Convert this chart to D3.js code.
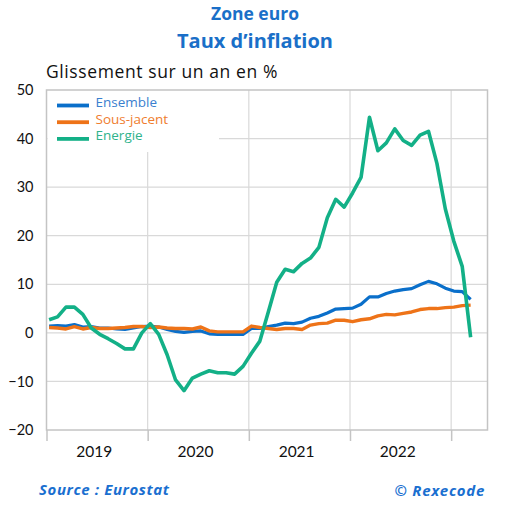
<!DOCTYPE html>
<html>
<head>
<meta charset="utf-8">
<script src="https://cdn.jsdelivr.net/npm/d3@7"></script>
<style>
  html, body { margin: 0; padding: 0; background: #fff; }
  svg { display: block; font-family: "Open Sans", Lato, sans-serif; }
</style>
</head>
<body>
<svg id="chart" width="509" height="511"></svg>
<script>
// ---- Data (euro area HICP, annual rate %) ----
const months = [
  "2019-01","2019-02","2019-03","2019-04","2019-05","2019-06","2019-07","2019-08","2019-09","2019-10","2019-11","2019-12",
  "2020-01","2020-02","2020-03","2020-04","2020-05","2020-06","2020-07","2020-08","2020-09","2020-10","2020-11","2020-12",
  "2021-01","2021-02","2021-03","2021-04","2021-05","2021-06","2021-07","2021-08","2021-09","2021-10","2021-11","2021-12",
  "2022-01","2022-02","2022-03","2022-04","2022-05","2022-06","2022-07","2022-08","2022-09","2022-10","2022-11","2022-12",
  "2023-01","2023-02","2023-03"
];
const ensemble = [
  1.4,1.5,1.4,1.7,1.2,1.3,1.0,1.0,0.8,0.7,1.0,1.3,
  1.4,1.2,0.7,0.3,0.1,0.3,0.4,-0.2,-0.3,-0.3,-0.3,-0.3,
  0.9,0.9,1.3,1.6,2.0,1.9,2.2,3.0,3.4,4.1,4.9,5.0,
  5.1,5.9,7.4,7.4,8.1,8.6,8.9,9.1,9.9,10.6,10.1,9.2,
  8.6,8.5,6.9
];
const sousJacent = [
  1.1,1.0,0.8,1.3,0.8,1.1,0.9,0.9,1.0,1.1,1.3,1.3,
  1.1,1.2,1.0,0.9,0.9,0.8,1.2,0.4,0.2,0.2,0.2,0.2,
  1.4,1.1,0.9,0.7,0.9,0.9,0.7,1.6,1.9,2.0,2.6,2.6,
  2.3,2.7,2.9,3.5,3.8,3.7,4.0,4.3,4.8,5.0,5.0,5.2,
  5.3,5.6,5.7
];
const energie = [
  2.7,3.3,5.3,5.3,3.8,1.0,-0.3,-1.2,-2.2,-3.3,-3.3,0.0,
  1.9,-0.3,-4.5,-9.7,-11.9,-9.3,-8.5,-7.8,-8.2,-8.2,-8.5,-6.9,
  -4.2,-1.7,4.3,10.4,13.1,12.6,14.3,15.4,17.6,23.7,27.5,25.9,
  28.8,32.0,44.4,37.5,39.1,42.0,39.6,38.6,40.7,41.5,34.9,25.5,
  18.9,13.7,-0.9
];
const seriesNames = ["Ensemble","Sous-jacent","Energie"];
const seriesColors = ["#0a6fca","#ee7318","#13b087"];
const legendTextColors = ["#3a80cf","#ef7d2e","#2fb38c"];
const yTicks = [-20,-10,0,10,20,30,40,50];
const yearLabels = ["2019","2020","2021","2022"];

// ---- Layout ----
const svg = d3.select("#chart");
const pL = 46.5, pR = 487.5, pT = 90, pB = 430;

const x = d3.scaleLinear().domain([-0.31, 52.0]).range([pL, pR]);
const y = d3.scaleLinear().domain([-20, 50]).range([pB, pT]);

const yearBounds = d3.range(0, 5).map(k => 12 * k - 0.31);

// Titles
const blue = "#1a6fc8";
svg.append("text").attr("x", 255).attr("y", 20).attr("text-anchor", "middle")
  .attr("font-size", 17.5).attr("font-weight", 700).attr("fill", blue).text("Zone euro");
svg.append("text").attr("x", 255).attr("y", 48).attr("text-anchor", "middle")
  .attr("font-size", 20).attr("font-weight", 700).attr("fill", blue).text("Taux d\u2019inflation");
svg.append("text").attr("x", 46).attr("y", 78).attr("font-size", 17.5).attr("letter-spacing", 0.6)
  .attr("fill", "#111").text("Glissement sur un an en %");

// Grid
const grid = svg.append("g");
grid.selectAll(".hg").data(yTicks.filter(v => v > -20 && v < 50)).join("line")
  .attr("x1", pL).attr("x2", pR).attr("y1", d => y(d)).attr("y2", d => y(d))
  .attr("stroke", "#d9d9d9").attr("stroke-width", 1.2);
grid.selectAll(".vg").data(yearBounds.slice(1)).join("line")
  .attr("x1", d => x(d)).attr("x2", d => x(d)).attr("y1", pT).attr("y2", pB)
  .attr("stroke", "#d9d9d9").attr("stroke-width", 1.2);

// Legend background (hides grid)
svg.append("rect").attr("x", pL + 1).attr("y", pT + 1).attr("width", 219 - pL - 1).attr("height", 152 - pT - 1)
  .attr("fill", "#fff");

// Plot border
svg.append("rect").attr("x", pL).attr("y", pT).attr("width", pR - pL).attr("height", pB - pT)
  .attr("fill", "none").attr("stroke", "#c4c4c4").attr("stroke-width", 1.5);

// Y axis
const yAxis = d3.axisLeft(y).tickValues(yTicks).tickSize(0).tickPadding(13).tickFormat(d3.format("d"));
const ga = svg.append("g").attr("transform", `translate(${pL},0)`).call(yAxis);
ga.select(".domain").remove();
ga.selectAll("text").attr("font-size", 14.5).attr("fill", "#111").attr("font-family", "Lato, sans-serif");

// X axis ticks (year boundaries) and labels
const xAxis = d3.axisBottom(x).tickValues(yearBounds).tickSize(11).tickFormat("");
const gx = svg.append("g").attr("transform", `translate(0,${pB})`).call(xAxis);
gx.select(".domain").remove();
gx.selectAll("line").attr("stroke", "#c4c4c4").attr("stroke-width", 1.5);

const labelPos = yearLabels.map((t, i) => 12 * i + 5.3);
const xLab = d3.axisBottom(x).tickValues(labelPos).tickSize(0).tickPadding(16)
  .tickFormat((d, i) => yearLabels[i]);
const gl = svg.append("g").attr("transform", `translate(0,${pB})`).call(xLab);
gl.select(".domain").remove();
gl.selectAll("text").attr("font-size", 15.5).attr("fill", "#111").attr("font-family", "Lato, sans-serif");

// Lines
const data = [ensemble, sousJacent, energie];
const widths = [3.2, 3.4, 3.6];
const line = d3.line().x((d, i) => x(i)).y(d => y(d)).curve(d3.curveLinear);
data.forEach((s, k) => {
  svg.append("path").datum(s).attr("d", line)
    .attr("fill", "none").attr("stroke", seriesColors[k]).attr("stroke-width", widths[k])
    .attr("stroke-linejoin", "round").attr("stroke-linecap", "butt");
});

// Legend
const lg = svg.append("g");
seriesNames.forEach((n, k) => {
  const yy = 105.5 + k * 16.7;
  lg.append("line").attr("x1", 57).attr("x2", 89).attr("y1", yy).attr("y2", yy)
    .attr("stroke", seriesColors[k]).attr("stroke-width", 3.8);
  lg.append("text").attr("x", 95.5).attr("y", yy + 1.5).attr("font-size", 13.5)
    .attr("fill", legendTextColors[k]).text(n);
});

// Footer
svg.append("text").attr("x", 39).attr("y", 495).attr("font-size", 15).attr("font-weight", 700)
  .attr("letter-spacing", 0.6).attr("font-style", "italic").attr("fill", "#1a6fd0").text("Source : Eurostat");
svg.append("text").attr("x", 485).attr("y", 496).attr("text-anchor", "end").attr("font-size", 15)
  .attr("letter-spacing", 0.7).attr("font-weight", 700).attr("font-style", "italic").attr("fill", "#1a6fd0").text("\u00a9 Rexecode");
</script>
</body>
</html>
